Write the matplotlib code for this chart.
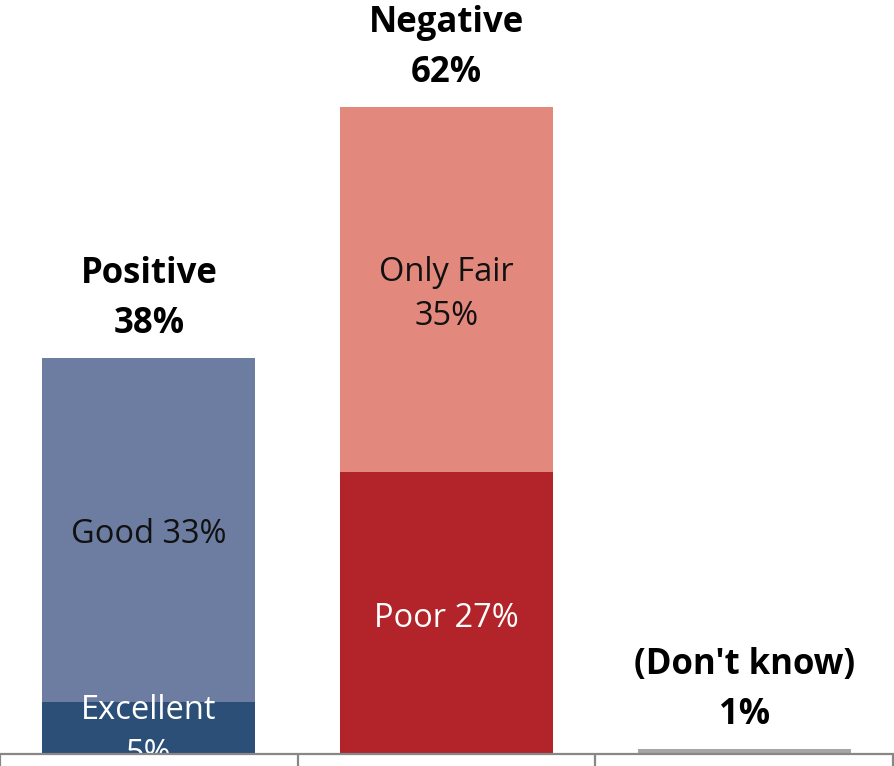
import matplotlib
matplotlib.use("Agg")
import matplotlib.pyplot as plt

categories = ["Positive", "Negative", "(Don't know)"]
totals_label = ["38%", "62%", "1%"]
bottom_values = [5, 27, 0.5]
top_values = [33, 35, 0]
bottom_labels = ["Excellent\n5%", "Poor 27%", ""]
top_labels = ["Good 33%", "Only Fair\n35%", ""]
bottom_colors = ["#2b4f77", "#b2242a", "#a6a6a6"]
top_colors = ["#6d7ca1", "#e3887c", "#a6a6a6"]
bottom_text_colors = ["white", "white", "white"]
top_text_colors = ["#111111", "#111111", "#111111"]

plt.rcParams['font.family'] = ['Open Sans', 'DejaVu Sans']

W, H = 894, 766
fig = plt.figure(figsize=(W / 100, H / 100), dpi=100)
ax = fig.add_axes([0, 12 / H, 893 / W, 754 / H])
x = list(range(len(categories)))
bw = 0.716

ax.bar(x, bottom_values, width=bw, color=bottom_colors, zorder=1)
ax.bar(x, top_values, width=bw, bottom=bottom_values, color=top_colors, zorder=1)

ax.set_xlim(-0.5, 2.5)
ax.set_ylim(0, 72.3)

fs = 23.5
fsb = 25
for i in range(len(categories)):
    b = bottom_values[i]
    t = top_values[i]
    if bottom_labels[i]:
        ax.annotate(bottom_labels[i], xy=(x[i], b / 2), xytext=(0, -3.5),
                    textcoords='offset points', ha='center', va='center',
                    fontsize=fs, color=bottom_text_colors[i], linespacing=1.45,
                    zorder=2, annotation_clip=False)
    if top_labels[i]:
        ax.annotate(top_labels[i], xy=(x[i], b + t / 2), xytext=(0, -3.5),
                    textcoords='offset points', ha='center', va='center',
                    fontsize=fs, color=top_text_colors[i], linespacing=1.45,
                    zorder=2, annotation_clip=False)
    total = b + t
    ax.annotate(categories[i] + "\n" + totals_label[i], xy=(x[i], total),
                xytext=(0, 11.5), textcoords='offset points',
                ha='center', va='bottom', fontsize=fsb, fontweight='bold',
                color='black', linespacing=1.52, annotation_clip=False)

for s in ['top', 'left', 'right']:
    ax.spines[s].set_visible(False)
ax.spines['bottom'].set_color('#878787')
ax.spines['bottom'].set_linewidth(1.6)
ax.spines['bottom'].set_zorder(3)
ax.set_yticks([])
ax.set_xticks([-0.5, 0.5, 1.5, 2.5])
ax.set_xticklabels([])
ax.tick_params(axis='x', direction='out', length=9, width=1.6, color='#878787')

fig.savefig("out.png", dpi=100)
